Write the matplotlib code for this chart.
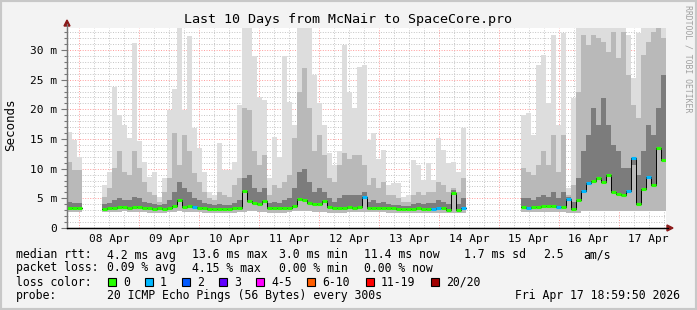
import datetime as dt

import matplotlib

matplotlib.use("Agg")
import matplotlib.pyplot as plt
import numpy as np
from matplotlib.lines import Line2D
from matplotlib.patches import Polygon, Rectangle

# ---- data (ms), one value per 2 hour step, starting Apr 7 19:00 ----
N = None
median = [3.3, 3.3, 3.4, N, N, N, N, 3.25, 3.3, 3.4,
          3.6, 3.6, 3.4, 3.55, 3.5, 3.4, 3.3, 3.2, 3.3, 3.25,
          3.4, 3.7, 4.8, 3.5, 3.75, 3.5, 3.45, 3.3, 3.25, 3.25,
          3.25, 3.2, 3.25, 3.3, 3.4, 6.3, 4.5, 4.2, 4.1, 4.5,
          3.4, 3.3, 3.3, 3.4, 3.45, 3.75, 4.95, 4.8, 4.2, 4.0,
          4.05, 4.5, 3.6, 3.35, 3.3, 3.3, 3.6, 3.45, 3.6, 5.2,
          3.4, 3.4, 3.4, 3.4, 3.3, 3.3, 3.15, 3.2, 3.2, 3.2,
          3.3, 3.25, 3.25, 3.25, 3.45, 3.4, 3.1, 5.9, 3.1, 3.35,
          N, N, N, N, N, N, N, N, N, N,
          N, 3.5, 3.45, 3.5, 3.5, 3.7, 3.7, 3.7, 3.6, 3.6,
          4.9, 3.2, 4.8, 6.3, 7.6, 8.0, 8.5, 7.8, 8.9, 6.1,
          5.7, 5.5, 6.3, 11.8, 4.0, 6.6, 8.6, 7.2, 13.5, 11.4]

loss = [0] * 120
for k in [25, 59, 73, 74, 79, 92, 98, 100, 103, 104, 112, 113, 116]:
    loss[k] = 1

ping_min = [2.7, 2.7, 2.7, N, N, N, N, 2.7, 2.7, 2.7,
            2.7, 2.8, 2.7, 2.7, 2.7, 2.7, 2.6, 2.6, 2.6, 2.6,
            2.7, 2.7, 2.8, 2.7, 2.7, 2.7, 2.7, 2.6, 2.6, 2.6,
            2.6, 2.6, 2.6, 2.6, 2.7, 2.7, 2.8, 2.8, 2.7, 2.7,
            2.6, 2.6, 2.6, 2.6, 2.7, 2.8, 2.8, 2.8, 2.8, 2.7,
            2.7, 2.7, 2.6, 2.6, 2.6, 2.6, 2.7, 2.7, 2.7, 2.7,
            2.7, 2.7, 2.7, 2.7, 2.6, 2.6, 2.5, 2.5, 2.5, 2.5,
            2.6, 2.6, 2.6, 2.6, 2.6, 2.6, 2.5, 2.5, 2.5, 2.6,
            N, N, N, N, N, N, N, N, N, N,
            N, 2.7, 2.7, 2.7, 2.7, 2.7, 2.7, 2.7, 2.7, 2.7,
            2.6, 2.5, 2.6, 2.8, 2.8, 2.8, 2.8, 2.8, 2.8, 2.8,
            2.8, 2.8, 2.8, 2.8, 2.8, 2.8, 2.8, 2.8, 2.8, 2.8]

ping_max = [16.2, 14.8, 12.0, N, N, N, N, 7.3, 9.5, 23.8,
            19.0, 17.4, 15.1, 31.1, 14.6, 11.2, 8.6, 9.5, 5.3, 8.4,
            19.9, 23.5, 35, 19.9, 32.3, 16.8, 13.4, 9.5, 6.1, 5.6,
            14.3, 9.8, 9.8, 11.2, 20.7, 35, 35, 28.9, 22.1, 21.6,
            8.4, 15.4, 12.0, 28.9, 21.3, 17.4, 35, 35, 33.7, 25.8,
            21.0, 17.4, 12.6, 10.6, 12.9, 30.9, 23.0, 20.2, 27.2, 27.5,
            14.8, 16.0, 11.7, 13.2, 7.25, 7.5, 7.5, 5.3, 5.6, 11.5,
            10.6, 8.1, 10.9, 8.1, 15.1, 13.2, 10.9, 11.2, 9.5, 16.8,
            N, N, N, N, N, N, N, N, N, N,
            N, 19.0, 19.3, 15.7, 27.5, 29.2, 21.0, 32.5, 17.4, 32.8,
            6.7, 21.9, 33.7, 35, 35, 35, 35, 35, 35, 35,
            35, 35, 32.5, 25.2, 32.8, 35, 35, 35, 35, 35]

ping_mid = [11.2, 9.8, 9.8, N, N, N, N, 5.3, 6.7, 10.1,
            12.9, 9.5, 8.9, 12.9, 10.1, 7.8, 6.1, 5.6, 4.4, 6.1,
            8.4, 16.0, 10.6, 15.7, 12.9, 9.2, 7.8, 6.1, 5.0, 4.7,
            6.1, 5.6, 5.3, 7.25, 8.4, 20.2, 19.9, 12.9, 10.6, 12.3,
            5.6, 7.25, 6.7, 7.8, 8.9, 15.1, 23.0, 26.9, 20.2, 12.9,
            15.7, 12.3, 8.4, 7.8, 10.6, 12.6, 11.7, 12.3, 12.3, 10.6,
            7.25, 8.4, 6.7, 7.8, 5.6, 5.6, 5.0, 4.4, 4.4, 5.6,
            6.1, 5.6, 6.1, 6.1, 7.8, 7.25, 6.1, 6.7, 6.1, 8.4,
            N, N, N, N, N, N, N, N, N, N,
            N, 10.1, 9.5, 8.9, 10.6, 12.9, 10.6, 15.7, 9.5, 15.7,
            5.6, 7.25, 23.0, 32.5, 30.9, 32.5, 32.0, 31.4, 29.7, 33.1,
            28.6, 33.1, 25.8, 20.7, 18.5, 29.2, 31.4, 33.1, 33.7, 32.0]

ping_dark = [4.4, 4.2, 4.2, N, N, N, N, 4.0, 4.2, 4.7,
             5.0, 4.7, 4.7, 5.3, 5.0, 4.4, 4.2, 4.0, 3.9, 4.0,
             4.7, 6.1, 7.8, 6.7, 6.1, 5.0, 4.7, 4.2, 4.0, 3.9,
             4.0, 3.9, 3.9, 4.2, 4.7, 8.4, 8.9, 6.7, 6.1, 6.7,
             4.2, 4.4, 4.2, 4.7, 5.0, 6.7, 9.5, 10.0, 7.8, 6.1,
             6.7, 6.1, 5.0, 4.4, 5.0, 5.6, 5.6, 5.6, 5.6, 6.1,
             4.4, 4.7, 4.2, 4.4, 4.0, 3.9, 3.8, 3.7, 3.7, 4.0,
             4.2, 4.0, 4.2, 4.2, 4.7, 4.4, 4.0, 6.4, 4.0, 5.0,
             N, N, N, N, N, N, N, N, N, N,
             N, 5.0, 5.0, 4.7, 5.3, 5.6, 5.3, 6.1, 5.0, 6.1,
             5.3, 4.4, 8.4, 12.9, 15.7, 20.2, 17.4, 21.9, 17.4, 14.0,
             12.9, 10.1, 10.1, 10.6, 8.9, 12.9, 17.4, 15.7, 20.2, 25.8]

loss_labels = ["0", "1", "2", "3", "4-5", "6-10", "11-19", "20/20"]
loss_colors = ["#26ff00", "#00b8ff", "#0059ff", "#6000ff",
               "#ff00ff", "#ff5e00", "#ff0000", "#a00000"]

stats_rtt = ["median rtt:", "4.2 ms avg", "13.6 ms max", "3.0 ms min",
             "11.4 ms now", "1.7 ms sd", "2.5", "am/s"]
stats_loss = ["packet loss:", "0.09 % avg", "4.15 % max", "0.00 % min",
              "0.00 % now"]
probe_text = "20 ICMP Echo Pings (56 Bytes) every 300s"
stamp_text = "Fri Apr 17 18:59:50 2026"

start = dt.datetime(2026, 4, 7, 19, 0)
step_h = 2
total_h = 240

W, H = 697, 310
MONO = "DejaVu Sans Mono"


def fx(x):
    return x / W


def fy(y):
    return 1 - y / H


def arr(values):
    return np.array([np.nan if v is None else v for v in values], dtype=float)


med = arr(median)
lo = arr(ping_min)
top = arr(ping_max)
mid = arr(ping_mid)
dark = arr(ping_dark)
valid = ~np.isnan(med)

edges = np.arange(len(med) + 1) * step_h
xs = np.repeat(edges, 2)[1:-1]


def rep(a):
    return np.repeat(a, 2)


wmask = rep(valid)

fig = plt.figure(figsize=(W / 100, H / 100), dpi=100, facecolor="#f3f3f3")
ax = fig.add_axes([fx(67), fy(228), 599 / W, 200 / H])
ax.set_facecolor("white")

# grid (under the smoke)
first_mid = (24 - start.hour) % 24
for h in np.arange(first_mid - 24, total_h, 6):
    if h <= 0:
        continue
    major = (h - first_mid) % 24 == 0
    ax.axvline(h, color="#ff9a9a" if major else "#c4c4c4", lw=0.7,
               ls=(0, (1, 1.6)), zorder=0.5)
for v in range(1, 34):
    major = v % 5 == 0
    ax.axhline(v, color="#ff9a9a" if major else "#c4c4c4", lw=0.7,
               ls=(0, (1, 1.6)), zorder=0.5)

# smoke
ax.fill_between(xs, rep(lo), rep(top), where=wmask, color="#dddddd", lw=0, zorder=1)
ax.fill_between(xs, rep(lo), rep(mid), where=wmask, color="#b9b9b9", lw=0, zorder=2)
ax.fill_between(xs, rep(med), rep(dark), where=wmask, color="#7c7c7c", lw=0, zorder=3)

# median: black step line and coloured marks
ax.plot(xs, rep(med), color="black", lw=0.7, zorder=5)
for i in range(len(med)):
    if valid[i]:
        ax.plot([edges[i], edges[i + 1]], [med[i], med[i]],
                color=loss_colors[loss[i]], lw=2.2, solid_capstyle="butt", zorder=6)

ax.set_xlim(0, total_h)
ax.set_ylim(0, 33.7)

# ticks
yt = list(range(0, 31, 5))
ax.set_yticks(yt)
ax.set_yticklabels(["0"] + [f"{v} m" for v in yt[1:]], family=MONO, fontsize=8)
ax.set_yticks(range(0, 34), minor=True)
ax.tick_params(axis="y", which="major", length=4, width=0.8, color="#777777", pad=3)
ax.tick_params(axis="y", which="minor", length=2, width=0.8, color="#777777")

noons = [first_mid + 12 + 24 * k for k in range(10)]
ax.set_xticks(noons)
ax.set_xticklabels([(start + dt.timedelta(hours=h)).strftime("%d %b") for h in noons],
                   family=MONO, fontsize=8)
ax.tick_params(axis="x", length=0, pad=4)

for s in ["top", "right"]:
    ax.spines[s].set_visible(False)
ax.spines["left"].set_color("#777777")
ax.spines["bottom"].set_color("black")
ax.spines["left"].set_linewidth(0.9)
ax.spines["bottom"].set_linewidth(0.9)

# axis extensions and arrows
fig.add_artist(Line2D([fx(67), fx(67)], [fy(228), fy(24)], color="#777777", lw=0.9))
fig.add_artist(Line2D([fx(67), fx(668)], [fy(228), fy(228)], color="black", lw=0.9))
fig.add_artist(Polygon([[fx(64), fy(26)], [fx(70), fy(26)], [fx(67), fy(20)]],
                       closed=True, color="#8b1a1a", transform=fig.transFigure))
fig.add_artist(Polygon([[fx(667), fy(225)], [fx(667), fy(231)], [fx(673), fy(228)]],
                       closed=True, color="#8b1a1a", transform=fig.transFigure))

# frame
fig.add_artist(Rectangle((0, 0), 1, 1, transform=fig.transFigure, fill=False,
                         edgecolor="#c8c8c8", lw=3))

# texts
fig.text(fx(348), fy(19), "Last 10 Days from McNair to SpaceCore.pro",
         ha="center", va="center", family=MONO, fontsize=9.6)
fig.text(fx(11), fy(125), "Seconds", rotation=90, ha="center", va="center",
         family=MONO, fontsize=9)
fig.text(fx(688), fy(59), "RRDTOOL / TOBI OETIKER", rotation=270, ha="center",
         va="center", family=MONO, fontsize=5.9, color="#a0a0a0")

rtt_x = [16, 107, 192, 279, 364, 464, 543, 583]
for x, t in zip(rtt_x, stats_rtt):
    fig.text(fx(x), fy(255), t, ha="left", va="center", family=MONO, fontsize=8.3)
loss_x = [16, 107, 192, 279, 364]
for x, t in zip(loss_x, stats_loss):
    fig.text(fx(x), fy(268), t, ha="left", va="center", family=MONO, fontsize=8.3)

fig.text(fx(16), fy(282), "loss color:", ha="left", va="center", family=MONO, fontsize=8.3)
box_x = [108, 145, 182, 219, 256, 307, 366, 431]
for x, lab, c in zip(box_x, loss_labels, loss_colors):
    fig.add_artist(Rectangle((fx(x), fy(286)), 8 / W, 8 / H, transform=fig.transFigure,
                             facecolor=c, edgecolor="black", lw=0.8))
    fig.text(fx(x + 15), fy(282), lab, ha="left", va="center", family=MONO, fontsize=8.3)

fig.text(fx(16), fy(296), "probe:", ha="left", va="center", family=MONO, fontsize=8.3)
fig.text(fx(107), fy(296), probe_text, ha="left", va="center", family=MONO, fontsize=8.3)
fig.text(fx(680), fy(296), stamp_text, ha="right", va="center", family=MONO, fontsize=8.3)

fig.savefig("out.png", dpi=100, facecolor=fig.get_facecolor())
